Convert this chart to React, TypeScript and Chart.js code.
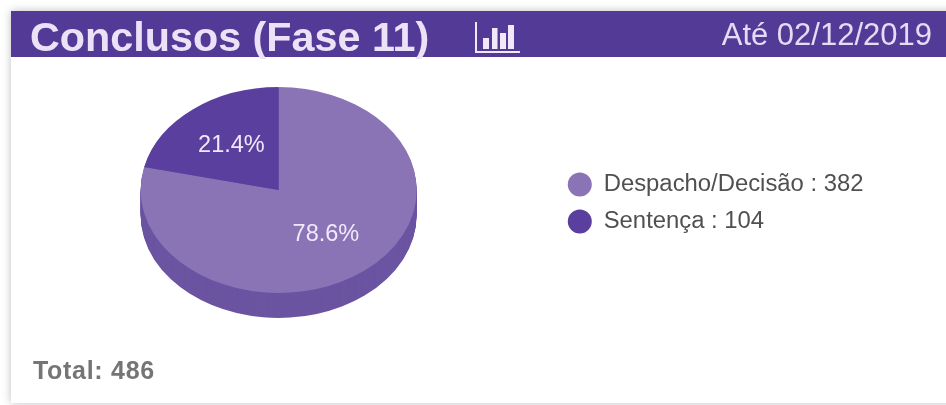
import React, { useEffect, useRef } from "react";
import { Chart, registerables } from "chart.js";

Chart.register(...registerables);

const categories = ["Despacho/Decisão", "Sentença"];
const conclusos = [382, 104];
const sliceColors = ["#8b74b6", "#5b3f9e"];
const sideColor = "#6b54a1";
const titleText = "Conclusos (Fase 11)";
const dateText = "Até 02/12/2019";
const FONT = '"Liberation Sans", Arial, sans-serif';

const total = conclusos.reduce((a, b) => a + b, 0);

// Tilt and rim of the pie
const TILT = 0.746;
const DEPTH = 25;
const PIE_CENTER_Y = 190;

function tiltTransform(chart: any, ctx: CanvasRenderingContext2D, drop: number) {
  const arc = chart.getDatasetMeta(0).data[0];
  ctx.setTransform(1, 0, 0, TILT, 0, PIE_CENTER_Y + drop - arc.y * TILT);
}

const tiltedPie = {
  id: "tiltedPie",
  beforeDatasetsDraw(chart: any) {
    const ctx = chart.ctx;
    ctx.save();
    const arcs = chart.getDatasetMeta(0).data;
    for (let d = DEPTH; d >= 1; d--) {
      tiltTransform(chart, ctx, d);
      arcs.forEach((arc: any) => {
        const own = arc.options;
        arc.options = Object.create(own, { backgroundColor: { value: sideColor } });
        arc.draw(ctx);
        arc.options = own;
      });
    }
    tiltTransform(chart, ctx, 0);
  },
  afterDatasetsDraw(chart: any) {
    const ctx = chart.ctx;
    ctx.restore();
    // Percentage labels sit on the tilted faces
    ctx.save();
    ctx.font = `23.5px ${FONT}`;
    ctx.fillStyle = "#f1e9fa";
    ctx.textAlign = "center";
    ctx.textBaseline = "middle";
    chart.getDatasetMeta(0).data.forEach((arc: any, i: number) => {
      const mid = arc.getCenterPoint();
      const x = arc.x + (mid.x - arc.x) * 1.1;
      const y = PIE_CENTER_Y + (mid.y - arc.y) * 1.1 * TILT;
      ctx.fillText(`${((conclusos[i] / total) * 100).toFixed(1)}%`, x, y);
    });
    ctx.restore();
  },
};

function BarIcon() {
  return (
    <svg width="52" height="46" viewBox="0 0 52 46" style={{ position: "absolute", left: 472, top: 11 }}>
      <path d="M4 11V41H48" fill="none" stroke="#f1e9fa" strokeWidth="2" />
      <rect x="11" y="27" width="6" height="11" fill="#f1e9fa" />
      <rect x="20" y="17" width="5.5" height="21" fill="#f1e9fa" />
      <rect x="28" y="22" width="6" height="16" fill="#f1e9fa" />
      <rect x="36" y="14" width="6" height="24" fill="#f1e9fa" />
    </svg>
  );
}

export default function App() {
  const canvasRef = useRef<HTMLCanvasElement>(null);

  useEffect(() => {
    const chart = new Chart(canvasRef.current!, {
      type: "pie",
      data: {
        labels: categories,
        datasets: [
          {
            data: conclusos,
            backgroundColor: sliceColors,
            borderWidth: 0,
            radius: 138,
          },
        ],
      },
      plugins: [tiltedPie],
      options: {
        responsive: false,
        animation: false,
        events: [],
        layout: { padding: { top: 60, bottom: 59, left: 2.5, right: 72.5 } },
        plugins: {
          tooltip: { enabled: false },
          legend: {
            position: "right",
            labels: {
              usePointStyle: true,
              pointStyle: "circle",
              pointStyleWidth: 24,
              boxHeight: 17,
              padding: 13,
              font: { family: FONT, size: 23.85 },
              generateLabels: () =>
                categories.map((name, i) => ({
                  text: `${name} : ${conclusos[i]}`,
                  fillStyle: sliceColors[i],
                  strokeStyle: sliceColors[i],
                  fontColor: "#505050",
                  lineWidth: 0,
                  pointStyle: "circle",
                  index: i,
                })),
            },
          },
        },
      },
    } as any);
    return () => chart.destroy();
  }, []);

  return (
    <div style={{ position: "absolute", left: 0, top: 0, width: 946, height: 405, overflow: "hidden", background: "#fff", fontFamily: FONT }}>
      <div style={{ position: "absolute", left: 11, top: 11, width: 960, height: 392, background: "#fff", boxShadow: "0 0 8px rgba(70,60,90,0.35)" }} />
      <canvas ref={canvasRef} width={946} height={405} style={{ position: "absolute", left: 0, top: 0 }} />
      <div style={{ position: "absolute", left: 11, top: 11, width: 935, height: 46, background: "#533a97" }} />
      <div style={{ position: "absolute", left: 30, top: 11, lineHeight: "52px", fontSize: 41.3, fontWeight: 700, color: "#ece2f8", whiteSpace: "nowrap" }}>{titleText}</div>
      <BarIcon />
      <div style={{ position: "absolute", right: 14, top: 17, lineHeight: "36px", fontSize: 31, color: "#e6dbf5", whiteSpace: "nowrap" }}>{dateText}</div>
      <div style={{ position: "absolute", left: 33, top: 354, lineHeight: "32px", fontSize: 25, fontWeight: 700, letterSpacing: 0.7, color: "#757575", whiteSpace: "nowrap" }}>{`Total: ${total}`}</div>
    </div>
  );
}
